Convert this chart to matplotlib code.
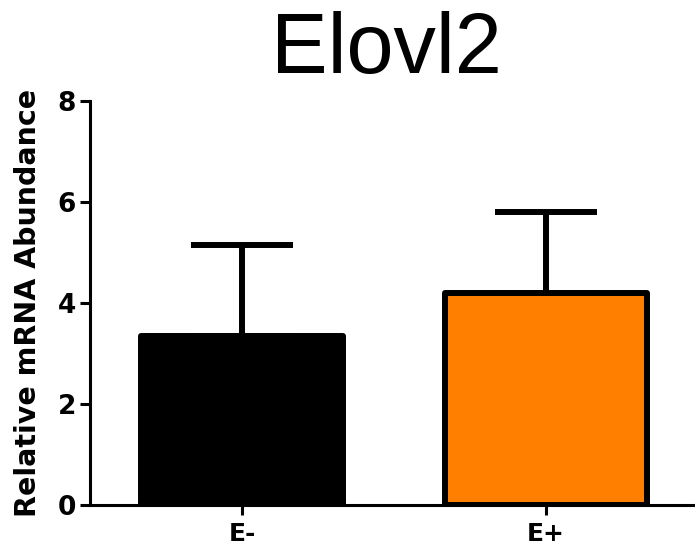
import matplotlib
matplotlib.use("Agg")
import matplotlib.pyplot as plt

# Elovl2 expression by group
groups = ["E-", "E+"]
means = [3.34, 4.20]
sems = [1.81, 1.60]
colors = ["#000000", "#FF8000"]

plt.rcParams["font.family"] = ["Liberation Sans", "DejaVu Sans"]
bold_font = ["DejaVu Sans", "Liberation Sans"]

fig = plt.figure(figsize=(6.95, 5.49), dpi=100)
ax = fig.add_axes([90 / 695, 44 / 549, 1 - 90 / 695, (505 - 101) / 549])

x = list(range(len(groups)))
bars = ax.bar(x, means, width=0.665, color=colors, edgecolor="black",
              linewidth=4.3, zorder=2)
for b in bars:
    b.set_joinstyle("round")

ax.errorbar(x, means, yerr=[[0] * len(sems), sems], fmt="none", ecolor="black",
            elinewidth=4.3, capsize=37, capthick=4.3, zorder=1)
for line in ax.lines:
    line.set_solid_capstyle("round")

ax.set_xlim(-0.5, 1.49)
ax.set_ylim(0, 8)
ax.set_yticks([0, 2, 4, 6, 8])
ax.set_xticks(x)
ax.set_xticklabels(groups, fontsize=18, fontweight="bold", family=bold_font)
for lab in ax.get_yticklabels():
    lab.set_fontsize(19)
    lab.set_fontweight("bold")
    lab.set_family(bold_font)

for s in ["top", "right"]:
    ax.spines[s].set_visible(False)
for s in ["left", "bottom"]:
    ax.spines[s].set_linewidth(2.2)
ax.tick_params(axis="both", width=2.2, length=7, pad=3)
ax.tick_params(axis="x", pad=5)
ax.spines["left"].set_bounds(0, 8)

ax.set_ylabel("Relative mRNA Abundance", fontsize=20.5, fontweight="bold",
              family=bold_font, labelpad=11)
fig.text(386 / 695, 1 - 73 / 549, "Elovl2", fontsize=61, ha="center", va="baseline")

fig.savefig("out.png", dpi=100)
